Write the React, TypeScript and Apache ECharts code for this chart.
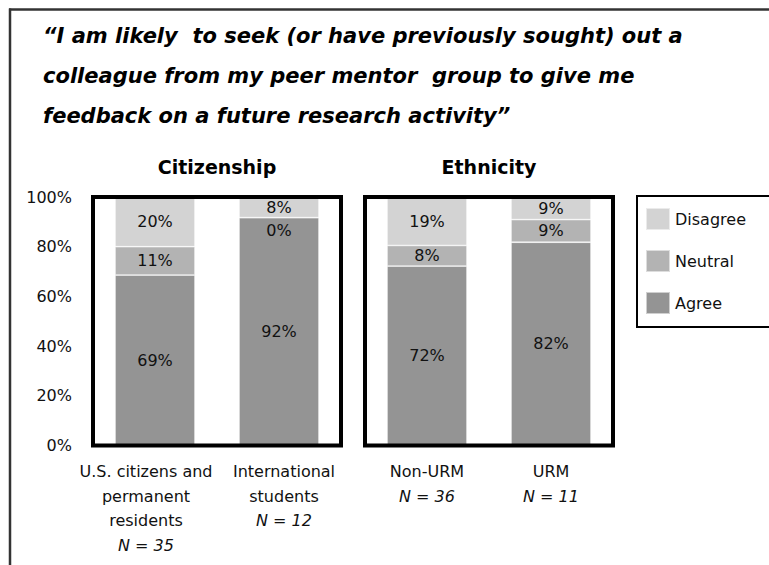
import React, { useEffect, useRef } from "react";
import * as echarts from "echarts";

const titleLines = [
  "\u201CI am likely  to seek (or have previously sought) out a",
  "colleague from my peer mentor  group to give me",
  "feedback on a future research activity\u201D",
];
const panelTitles = ["Citizenship", "Ethnicity"];
const seriesNames = ["Agree", "Neutral", "Disagree"];
const legendOrder = ["Disagree", "Neutral", "Agree"];

const citCategories = ["U.S. citizens and\npermanent\nresidents", "International\nstudents"];
const citN = [35, 12];
const citAgree = [68.6, 91.7];
const citNeutral = [11.4, 0];
const citDisagree = [20.0, 8.3];

const ethCategories = ["Non-URM", "URM"];
const ethN = [36, 11];
const ethAgree = [72.2, 81.8];
const ethNeutral = [8.3, 9.1];
const ethDisagree = [19.4, 9.1];

const yTicks = [0, 20, 40, 60, 80, 100];

const COLORS: Record<string, string> = {
  Agree: "#949494",
  Neutral: "#b3b3b3",
  Disagree: "#d3d3d3",
};

const FONT = "'DejaVu Sans', sans-serif";

export default function App() {
  const ref = useRef<HTMLDivElement>(null);
  useEffect(() => {
    document.body.style.margin = "0";
    if (!ref.current) return;
    const chart = echarts.init(ref.current, undefined, { renderer: "svg" });

    const grids = [
      { left: 93, top: 197, width: 248, height: 248.5 },
      { left: 365, top: 197, width: 248, height: 248.5 },
    ];

    const catLabel = (cats: string[], ns: number[], pads: number[][]) =>
      cats.map((c, i) => ({
        value: c + "\n{n|N = " + ns[i] + "}",
        textStyle: { padding: pads[i] },
      }));

    const labelStyle = {
      show: true,
      position: "inside",
      color: "#111",
      fontSize: 16,
      fontFamily: FONT,
      formatter: (p: any) => Math.round(p.value) + "%",
    };

    const mkSeries = (
      gi: number,
      stack: string,
      vals: Record<string, number[]>
    ) =>
      seriesNames.map((name) => ({
        type: "bar",
        name,
        xAxisIndex: gi,
        yAxisIndex: gi,
        stack,
        barWidth: 80,
        itemStyle: {
          color: COLORS[name],
          borderColor: "rgba(255,255,255,0.55)",
          borderWidth: 0.8,
        },
        label: labelStyle,
        data: vals[name].map((v) =>
          v === 0 ? { value: v, label: { offset: [0, 13] } } : v
        ),
      }));

    const xAxisBase = {
      type: "category",
      axisLine: { show: false },
      axisTick: { show: false },
      axisLabel: {
        interval: 0,
        margin: 14,
        color: "#111",
        fontSize: 16,
        fontFamily: FONT,
        lineHeight: 24.5,
        rich: {
          n: {
            fontStyle: "italic",
            fontSize: 16,
            fontFamily: FONT,
            lineHeight: 24.5,
            color: "#111",
          },
        },
      },
    };

    const yAxisBase = {
      type: "value",
      min: yTicks[0],
      max: yTicks[yTicks.length - 1],
      interval: 20,
      axisLine: { show: false },
      axisTick: { show: false },
      splitLine: { show: false },
    };

    chart.setOption({
      animation: false,
      backgroundColor: "#fff",
      title: {
        text: titleLines.join("\n"),
        left: 38,
        top: 11,
        textStyle: {
          fontFamily: FONT,
          fontStyle: "italic",
          fontWeight: "bold",
          fontSize: 21,
          lineHeight: 40,
          color: "#000",
        },
      },
      legend: {
        data: legendOrder,
        orient: "vertical",
        left: 637,
        top: 196,
        padding: [11, 60, 12, 8],
        itemWidth: 24,
        itemHeight: 22,
        itemGap: 18,
        icon: "rect",
        borderColor: "#000",
        borderWidth: 2,
        textStyle: { fontSize: 16, fontFamily: FONT, color: "#111" },
      },
      grid: grids.map((g) => ({
        ...g,
        show: true,
        z: 5,
        backgroundColor: "transparent",
        borderColor: "#000",
        borderWidth: 4,
      })),
      xAxis: [
        {
          ...xAxisBase,
          gridIndex: 0,
          data: catLabel(citCategories, citN, [
            [0, 18, 0, 0],
            [0, 0, 0, 10],
          ]),
        },
        {
          ...xAxisBase,
          gridIndex: 1,
          data: catLabel(ethCategories, ethN, [
            [0, 0, 0, 0],
            [0, 0, 0, 0],
          ]),
        },
      ],
      yAxis: [
        {
          ...yAxisBase,
          gridIndex: 0,
          axisLabel: {
            formatter: "{value}%",
            margin: 21,
            fontSize: 16,
            fontFamily: FONT,
            color: "#111",
          },
        },
        { ...yAxisBase, gridIndex: 1, axisLabel: { show: false } },
      ],
      series: [
        ...mkSeries(0, "cit", {
          Agree: citAgree,
          Neutral: citNeutral,
          Disagree: citDisagree,
        }),
        ...mkSeries(1, "eth", {
          Agree: ethAgree,
          Neutral: ethNeutral,
          Disagree: ethDisagree,
        }),
      ],
      graphic: [
        {
          type: "line",
          shape: { x1: 9, y1: 9.5, x2: 769, y2: 9.5 },
          style: { stroke: "#333", lineWidth: 2.5 },
        },
        {
          type: "line",
          shape: { x1: 10, y1: 8.5, x2: 10, y2: 565 },
          style: { stroke: "#333", lineWidth: 2.5 },
        },
        ...panelTitles.map((t, i) => ({
          type: "text",
          x: grids[i].left + grids[i].width / 2,
          y: 167,
          style: {
            text: t,
            fontSize: 19,
            fontWeight: "bold",
            fontFamily: FONT,
            fill: "#000",
            align: "center",
            verticalAlign: "middle",
          },
        })),
      ],
    });
    return () => chart.dispose();
  }, []);
  return <div ref={ref} style={{ width: 769, height: 565 }} />;
}
